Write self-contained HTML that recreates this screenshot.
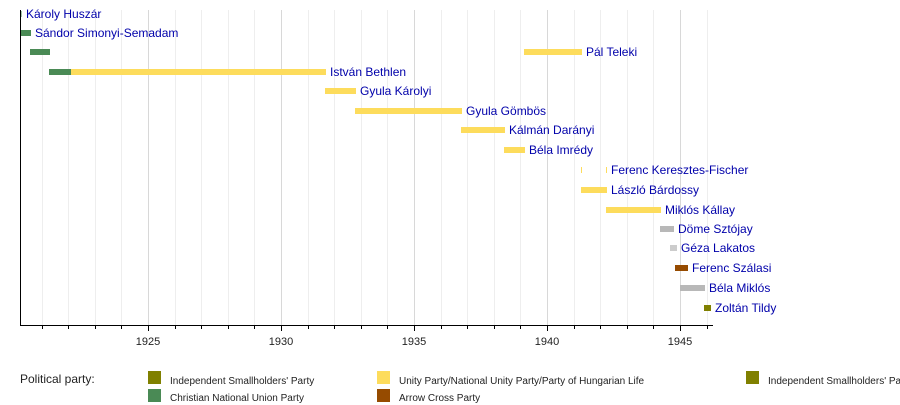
<!DOCTYPE html>
<html><head><meta charset="utf-8"><style>
html,body{margin:0;padding:0;background:#fff;}
svg{display:block;font-family:"Liberation Sans",Arial,sans-serif;}
</style></head><body>
<svg width="900" height="405" viewBox="0 0 900 405" xmlns="http://www.w3.org/2000/svg">
<g stroke="#eeeeee" stroke-width="1">
<line x1="42.5" y1="10" x2="42.5" y2="325"/><line x1="68.5" y1="10" x2="68.5" y2="325"/><line x1="95.5" y1="10" x2="95.5" y2="325"/><line x1="121.5" y1="10" x2="121.5" y2="325"/>
<line x1="175.5" y1="10" x2="175.5" y2="325"/><line x1="201.5" y1="10" x2="201.5" y2="325"/><line x1="228.5" y1="10" x2="228.5" y2="325"/><line x1="254.5" y1="10" x2="254.5" y2="325"/>
<line x1="308.5" y1="10" x2="308.5" y2="325"/><line x1="334.5" y1="10" x2="334.5" y2="325"/><line x1="361.5" y1="10" x2="361.5" y2="325"/><line x1="387.5" y1="10" x2="387.5" y2="325"/>
<line x1="441.5" y1="10" x2="441.5" y2="325"/><line x1="467.5" y1="10" x2="467.5" y2="325"/><line x1="494.5" y1="10" x2="494.5" y2="325"/><line x1="520.5" y1="10" x2="520.5" y2="325"/>
<line x1="574.5" y1="10" x2="574.5" y2="325"/><line x1="600.5" y1="10" x2="600.5" y2="325"/><line x1="627.5" y1="10" x2="627.5" y2="325"/><line x1="653.5" y1="10" x2="653.5" y2="325"/>
<line x1="707.5" y1="10" x2="707.5" y2="325"/>
</g>
<g stroke="#d8d8d8" stroke-width="1">
<line x1="148.5" y1="10" x2="148.5" y2="325"/><line x1="281.5" y1="10" x2="281.5" y2="325"/><line x1="414.5" y1="10" x2="414.5" y2="325"/><line x1="547.5" y1="10" x2="547.5" y2="325"/><line x1="680.5" y1="10" x2="680.5" y2="325"/>
</g>
<!-- bars -->
<g>
<rect x="20" y="11" width="1.5" height="6" fill="#4a8a55"/>
<rect x="20" y="30" width="11" height="6" fill="#4a8a55"/>
<rect x="30" y="49" width="20" height="6" fill="#4a8a55"/>
<rect x="524" y="49" width="58" height="6" fill="#fddc5c"/>
<rect x="49" y="69" width="22" height="6" fill="#4a8a55"/>
<rect x="71" y="69" width="255" height="6" fill="#fddc5c"/>
<rect x="325" y="88" width="31" height="6" fill="#fddc5c"/>
<rect x="355" y="108" width="107" height="6" fill="#fddc5c"/>
<rect x="461" y="127" width="44" height="6" fill="#fddc5c"/>
<rect x="504" y="147" width="21" height="6" fill="#fddc5c"/>
<rect x="581" y="167" width="1" height="6" fill="#fddc5c"/>
<rect x="606" y="167" width="1" height="6" fill="#fddc5c"/>
<rect x="581" y="187" width="26" height="6" fill="#fddc5c"/>
<rect x="606" y="207" width="55" height="6" fill="#fddc5c"/>
<rect x="660" y="226" width="14" height="6" fill="#b8b8b8"/>
<rect x="670" y="245" width="7" height="6" fill="#cccccc"/>
<rect x="675" y="265" width="13" height="6" fill="#964b00"/>
<rect x="680" y="285" width="25" height="6" fill="#b8b8b8"/>
<rect x="704" y="305" width="7" height="6" fill="#808000"/>
</g>
<g fill="#0000aa" font-size="12">
<text x="26" y="18">Károly Huszár</text>
<text x="35" y="37">Sándor Simonyi-Semadam</text>
<text x="586" y="56">Pál Teleki</text>
<text x="330" y="76">István Bethlen</text>
<text x="360" y="95">Gyula Károlyi</text>
<text x="466" y="115">Gyula Gömbös</text>
<text x="509" y="134">Kálmán Darányi</text>
<text x="529" y="154">Béla Imrédy</text>
<text x="611" y="174">Ferenc Keresztes-Fischer</text>
<text x="611" y="194">László Bárdossy</text>
<text x="665" y="214">Miklós Kállay</text>
<text x="678" y="233">Döme Sztójay</text>
<text x="681" y="252">Géza Lakatos</text>
<text x="692" y="272">Ferenc Szálasi</text>
<text x="709" y="292">Béla Miklós</text>
<text x="715" y="312">Zoltán Tildy</text>
</g>
<!-- axes -->
<line x1="20.5" y1="10" x2="20.5" y2="325" stroke="#000" stroke-width="1"/>
<line x1="20" y1="325.5" x2="713" y2="325.5" stroke="#000" stroke-width="1"/>
<g stroke="#000" stroke-width="1">
<line x1="42.5" y1="325" x2="42.5" y2="329"/><line x1="68.5" y1="325" x2="68.5" y2="329"/><line x1="95.5" y1="325" x2="95.5" y2="329"/><line x1="121.5" y1="325" x2="121.5" y2="329"/>
<line x1="148.5" y1="325" x2="148.5" y2="331"/>
<line x1="175.5" y1="325" x2="175.5" y2="329"/><line x1="201.5" y1="325" x2="201.5" y2="329"/><line x1="228.5" y1="325" x2="228.5" y2="329"/><line x1="254.5" y1="325" x2="254.5" y2="329"/>
<line x1="281.5" y1="325" x2="281.5" y2="331"/>
<line x1="308.5" y1="325" x2="308.5" y2="329"/><line x1="334.5" y1="325" x2="334.5" y2="329"/><line x1="361.5" y1="325" x2="361.5" y2="329"/><line x1="387.5" y1="325" x2="387.5" y2="329"/>
<line x1="414.5" y1="325" x2="414.5" y2="331"/>
<line x1="441.5" y1="325" x2="441.5" y2="329"/><line x1="467.5" y1="325" x2="467.5" y2="329"/><line x1="494.5" y1="325" x2="494.5" y2="329"/><line x1="520.5" y1="325" x2="520.5" y2="329"/>
<line x1="547.5" y1="325" x2="547.5" y2="331"/>
<line x1="574.5" y1="325" x2="574.5" y2="329"/><line x1="600.5" y1="325" x2="600.5" y2="329"/><line x1="627.5" y1="325" x2="627.5" y2="329"/><line x1="653.5" y1="325" x2="653.5" y2="329"/>
<line x1="680.5" y1="325" x2="680.5" y2="331"/>
<line x1="707.5" y1="325" x2="707.5" y2="329"/>
</g>
<g font-size="11" fill="#222" text-anchor="middle">
<text x="148" y="345">1925</text><text x="281" y="345">1930</text><text x="414" y="345">1935</text><text x="547" y="345">1940</text><text x="680" y="345">1945</text>
</g>
<!-- legend -->
<text x="20" y="383" font-size="12" fill="#222">Political party:</text>
<rect x="148" y="371" width="13" height="13" fill="#808000"/>
<text x="170" y="384" font-size="10" fill="#222">Independent Smallholders' Party</text>
<rect x="148" y="389" width="13" height="13" fill="#4a8a55"/>
<text x="170" y="401" font-size="10" fill="#222">Christian National Union Party</text>
<rect x="377" y="371" width="13" height="13" fill="#fddc5c"/>
<text x="399" y="384" font-size="10" fill="#222">Unity Party/National Unity Party/Party of Hungarian Life</text>
<rect x="377" y="389" width="13" height="13" fill="#964b00"/>
<text x="399" y="401" font-size="10" fill="#222">Arrow Cross Party</text>
<rect x="746" y="371" width="13" height="13" fill="#808000"/>
<text x="768" y="384" font-size="10" fill="#222">Independent Smallholders' Party</text>
</svg>
</body></html>
